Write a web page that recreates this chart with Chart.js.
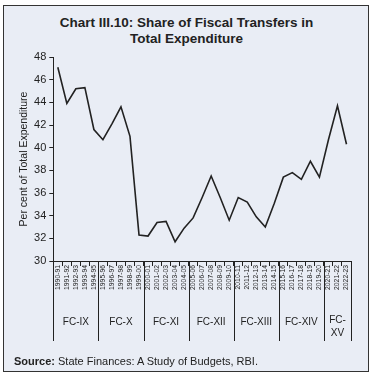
<!DOCTYPE html>
<html>
<head>
<meta charset="utf-8">
<script src="https://cdn.jsdelivr.net/npm/chart.js@4"></script>
<style>
  html, body { margin: 0; padding: 0; background: #fff; }
  #wrap { position: relative; width: 375px; height: 378px; overflow: hidden; }
  #frame {
    position: absolute; left: 3px; top: 5px; width: 364px; height: 365px;
    border: 1.5px solid #333; background: #e9edf5;
  }
  #title {
    position: absolute; left: 3px; width: 367px; top: 15px;
    text-align: center; font: bold 13.5px "Liberation Sans", Arial, sans-serif;
    line-height: 16px; color: #222;
  }
  #source {
    position: absolute; left: 14px; top: 355px;
    font: 11px "Liberation Sans", Arial, sans-serif; color: #222; line-height: 13px;
  }
  canvas { position: absolute; left: 0; top: 0; }
</style>
</head>
<body>
<div id="wrap">
  <div id="frame"></div>
  <div id="title">Chart III.10: Share of Fiscal Transfers in<br>Total Expenditure</div>
  <canvas id="chart" width="375" height="378"></canvas>
  <div id="source"><b>Source:</b> State Finances: A Study of Budgets, RBI.</div>
</div>
<script>
const years = ['1990-91', '1991-92', '1992-93', '1993-94', '1994-95',
    '1995-96', '1996-97', '1997-98', '1998-99', '1999-00',
    '2000-01', '2001-02', '2002-03', '2003-04', '2004-05',
    '2005-06', '2006-07', '2007-08', '2008-09', '2009-10',
    '2010-11', '2011-12', '2012-13', '2013-14', '2014-15',
    '2015-16', '2016-17', '2017-18', '2018-19', '2019-20',
    '2020-21', '2021-22', '2022-23'];

// share of fiscal transfers, per cent of total expenditure
const share = [47.1, 43.9, 45.2, 45.3, 41.6,
    40.7, 42.1, 43.6, 41.0, 32.3,
    32.2, 33.4, 33.5, 31.7, 32.9,
    33.8, 35.6, 37.5, 35.6, 33.6,
    35.6, 35.2, 33.9, 33.0, 35.1,
    37.4, 37.8, 37.2, 38.8, 37.4,
    40.7, 43.7, 40.3];

// finance commission periods
const commissions = ['FC-IX', 'FC-X', 'FC-XI', 'FC-XII', 'FC-XIII', 'FC-XIV', ['FC-', 'XV']];
const commissionYears = [5, 5, 5, 5, 5, 5, 3];

const ink = '#222';
const fontFamily = '"Liberation Sans", Arial, sans-serif';

// separators and commission names under the year labels
const commissionPlugin = {
    id: 'commissions',
    afterDraw(chart) {
        const ctx = chart.ctx;
        const x = chart.scales.x;
        const top = chart.chartArea.bottom;
        const bottom = 341;
        const half = (x.getPixelForValue(1) - x.getPixelForValue(0)) / 2;

        ctx.save();
        ctx.strokeStyle = ink;
        ctx.lineWidth = 1;
        ctx.fillStyle = ink;
        ctx.font = '10px ' + fontFamily;
        ctx.textAlign = 'center';
        ctx.textBaseline = 'middle';

        let start = 0;
        const edges = [x.getPixelForValue(0) - half];
        commissionYears.forEach((n, i) => {
            const end = start + n - 1;
            const left = x.getPixelForValue(start) - half;
            const right = x.getPixelForValue(end) + half;
            edges.push(right);
            const name = commissions[i];
            const mid = (left + right) / 2;
            if (Array.isArray(name)) {
                ctx.fillText(name[0], mid, 320);
                ctx.fillText(name[1], mid, 333);
            } else {
                ctx.fillText(name, mid, 322);
            }
            start += n;
        });

        edges.forEach(px => {
            const p = Math.round(px) + 0.5;
            ctx.beginPath();
            ctx.moveTo(p, top);
            ctx.lineTo(p, bottom);
            ctx.stroke();
        });
        ctx.restore();
    }
};

new Chart(document.getElementById('chart').getContext('2d'), {
    type: 'line',
    data: {
        labels: years,
        datasets: [{
            data: share,
            borderColor: ink,
            borderWidth: 1.6,
            pointRadius: 0,
            tension: 0,
            fill: false
        }]
    },
    options: {
        responsive: false,
        animation: false,
        layout: { padding: { top: 57, left: 0, right: 24, bottom: 0 } },
        plugins: {
            legend: { display: false },
            tooltip: { enabled: false }
        },
        scales: {
            x: {
                offset: true,
                afterFit: s => { s.height = 117; },
                border: { color: ink, width: 1 },
                grid: {
                    offset: true,
                    drawOnChartArea: false,
                    color: ink,
                    tickLength: 5
                },
                ticks: {
                    autoSkip: false,
                    maxRotation: 90,
                    minRotation: 90,
                    padding: -1,
                    color: ink,
                    font: { size: 6.8, family: fontFamily }
                }
            },
            y: {
                min: 30,
                max: 48,
                afterFit: s => { s.width = 53.3; },
                border: { color: ink, width: 1 },
                grid: {
                    drawOnChartArea: false,
                    color: ink,
                    tickLength: 4
                },
                ticks: {
                    stepSize: 2,
                    padding: 3,
                    color: ink,
                    font: { size: 11, family: fontFamily }
                },
                title: {
                    display: true,
                    text: 'Per cent of Total Expenditure',
                    color: ink,
                    font: { size: 10.5, family: fontFamily },
                    padding: { top: 18, bottom: 0 }
                }
            }
        }
    },
    plugins: [commissionPlugin]
});
</script>
</body>
</html>
